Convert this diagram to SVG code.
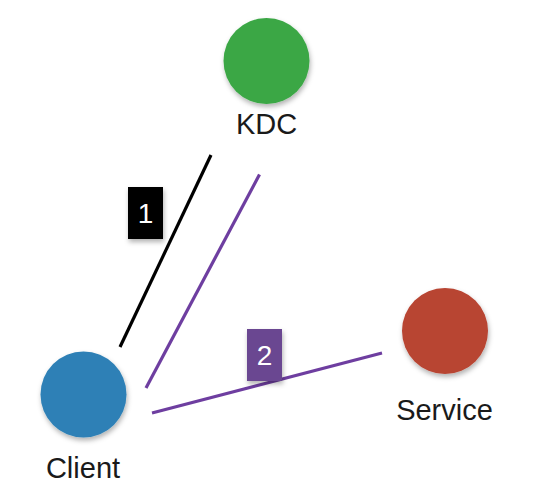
<svg xmlns="http://www.w3.org/2000/svg" width="536" height="502" viewBox="0 0 536 502">
<defs>
<filter id="sh" x="-30%" y="-30%" width="160%" height="160%">
<feDropShadow dx="1" dy="3" stdDeviation="2.5" flood-color="#000" flood-opacity="0.3"/>
</filter>
</defs>
<style>
.lbl{font-family:"Liberation Sans",Arial,sans-serif;font-size:29px;fill:#1a1a1a;text-anchor:middle}
.num{font-family:"Liberation Sans",Arial,sans-serif;font-size:28px;fill:#fff;text-anchor:middle}
.conn line{stroke-width:3.2;stroke-linecap:butt}
</style>
<rect width="536" height="502" fill="#fff"/>
<g id="connectors" class="conn">
<line x1="120" y1="347" x2="211" y2="155" stroke="#000"/>
<line x1="146" y1="388" x2="259.5" y2="174.5" stroke="#6e3ea0"/>
<line x1="152" y1="413" x2="382" y2="353" stroke="#6e3ea0"/>
</g>
<g id="label1">
<rect x="128" y="187" width="35" height="52" fill="#000" filter="url(#sh)"/>
<text class="num" x="145.5" y="223">1</text>
</g>
<g id="label2">
<rect x="247" y="329" width="35" height="52" fill="#6b4691" filter="url(#sh)"/>
<text class="num" x="264.5" y="365">2</text>
</g>
<g id="kdc">
<circle cx="266.5" cy="61" r="43" fill="#3aa745" filter="url(#sh)"/>
<text class="lbl" x="266.5" y="134">KDC</text>
</g>
<g id="client">
<circle cx="83.5" cy="394.5" r="43" fill="#2e80b6" filter="url(#sh)"/>
<text class="lbl" x="83" y="478">Client</text>
</g>
<g id="service">
<circle cx="445" cy="331" r="43" fill="#b84432" filter="url(#sh)"/>
<text class="lbl" x="444.5" y="420">Service</text>
</g>
</svg>
